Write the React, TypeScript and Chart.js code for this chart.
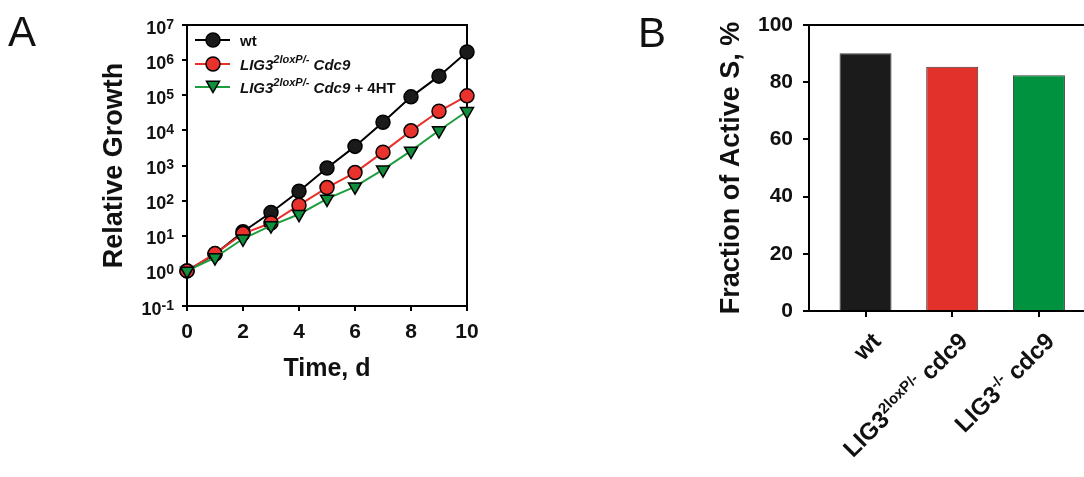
import React, { useEffect, useRef } from 'react';
import { Chart, registerables } from 'chart.js';

Chart.register(...registerables);

const FONT = '"Liberation Sans", Arial, Helvetica, sans-serif';

// ---------- Panel A data ----------
const days = [0, 1, 2, 3, 4, 5, 6, 7, 8, 9, 10];
const wtGrowth = [1, 3, 13, 46, 185, 850, 3500, 17000, 90000, 350000, 1700000];
const lig3Growth = [1, 3.1, 11.5, 23, 74, 235, 630, 2400, 9700, 35000, 96000];
const lig3HtGrowth = [1, 2.4, 8.2, 19.5, 41, 112, 250, 760, 2600, 9900, 35000];
const growthExponents = [-1, 0, 1, 2, 3, 4, 5, 6, 7];

type Run = { t: string; i?: boolean; sup?: boolean };

const legendNames: Run[][] = [
  [{ t: 'wt' }],
  [{ t: 'LIG3', i: true }, { t: '2loxP/-', i: true, sup: true }, { t: ' Cdc9', i: true }],
  [{ t: 'LIG3', i: true }, { t: '2loxP/-', i: true, sup: true }, { t: ' Cdc9', i: true }, { t: ' + 4HT' }],
];

// ---------- Panel B data ----------
const barPositions = [0, 1, 2];
const activeSFraction = [90.1, 85.4, 82.4];
const barLabels: Run[][] = [
  [{ t: 'wt' }],
  [{ t: 'LIG3' }, { t: '2loxP/-', sup: true }, { t: ' cdc9' }],
  [{ t: 'LIG3' }, { t: '-/-', sup: true }, { t: ' cdc9' }],
];
const barColors = ['#1b1b1b', '#e2302b', '#00923f'];

function runFont(r: Run, size: number, supSize: number) {
  return `${r.i ? 'italic ' : ''}bold ${r.sup ? supSize : size}px ${FONT}`;
}
function measureRuns(ctx: CanvasRenderingContext2D, runs: Run[], size: number, supSize: number) {
  let w = 0;
  for (const r of runs) {
    ctx.font = runFont(r, size, supSize);
    w += ctx.measureText(r.t).width;
  }
  return w;
}
function drawRuns(ctx: CanvasRenderingContext2D, runs: Run[], x: number, y: number, size: number, supSize: number, rise: number) {
  let cx = x;
  ctx.textAlign = 'left';
  ctx.textBaseline = 'alphabetic';
  for (const r of runs) {
    ctx.font = runFont(r, size, supSize);
    ctx.fillText(r.t, cx, r.sup ? y - rise : y);
    cx += ctx.measureText(r.t).width;
  }
}
function drawMarker(ctx: CanvasRenderingContext2D, style: string, x: number, y: number, r: number, fill: string) {
  ctx.beginPath();
  if (style === 'circle') {
    ctx.arc(x, y, r, 0, Math.PI * 2);
  } else {
    let rad = Math.PI;
    ctx.moveTo(x + Math.sin(rad) * r, y - Math.cos(rad) * r);
    rad += (2 * Math.PI) / 3;
    ctx.lineTo(x + Math.sin(rad) * r, y - Math.cos(rad) * r);
    rad += (2 * Math.PI) / 3;
    ctx.lineTo(x + Math.sin(rad) * r, y - Math.cos(rad) * r);
    ctx.closePath();
  }
  ctx.fillStyle = fill;
  ctx.fill();
  ctx.lineWidth = 1.5;
  ctx.strokeStyle = '#000';
  ctx.stroke();
}

const seriesStyles = [
  { line: '#000000', fill: '#1a1a1a', style: 'circle', radius: 7 },
  { line: '#e8302a', fill: '#e8322b', style: 'circle', radius: 7 },
  { line: '#1f9e40', fill: '#108f3c', style: 'triangle', radius: 7.5 },
];

function GrowthChart() {
  const ref = useRef<HTMLCanvasElement>(null);
  useEffect(() => {
    const series = [wtGrowth, lig3Growth, lig3HtGrowth];
    const framePlugin = {
      id: 'frameA',
      beforeDatasetsDraw(chart: any) {
        const { ctx, chartArea: a } = chart;
        ctx.save();
        ctx.strokeStyle = '#000';
        ctx.lineWidth = 2;
        ctx.strokeRect(a.left, a.top, a.right - a.left, a.bottom - a.top);
        ctx.restore();
      },
      afterDraw(chart: any) {
        const ctx: CanvasRenderingContext2D = chart.ctx;
        const ys = chart.scales.y;
        ctx.save();
        ctx.fillStyle = '#111';
        const xRight = ys.right - 13;
        for (const e of growthExponents) {
          const y = ys.getPixelForValue(Math.pow(10, e));
          ctx.textBaseline = 'alphabetic';
          ctx.font = `bold 14px ${FONT}`;
          const supT = String(e);
          const sw = ctx.measureText(supT).width;
          ctx.textAlign = 'left';
          ctx.fillText(supT, xRight - sw, y + 3.5);
          ctx.font = `bold 18px ${FONT}`;
          ctx.textAlign = 'right';
          ctx.fillText('10', xRight - sw, y + 8.5);
        }
        // legend
        const lx0 = 195, lx1 = 230, mx = 213, tx = 240;
        const rows = [40, 64, 87];
        legendNames.forEach((runs, k) => {
          const st = seriesStyles[k];
          const y = rows[k];
          ctx.beginPath();
          ctx.moveTo(lx0, y);
          ctx.lineTo(lx1, y);
          ctx.strokeStyle = st.line;
          ctx.lineWidth = 2;
          ctx.stroke();
          drawMarker(ctx, st.style, mx, st.style === 'circle' ? y : y - 2, st.radius, st.fill);
          ctx.fillStyle = '#111';
          drawRuns(ctx, runs, tx, y + 6, 15, 11, 7);
        });
        ctx.restore();
      },
    };
    const chart = new Chart(ref.current!, {
      type: 'line',
      data: {
        datasets: series.map((vals, k) => ({
          label: String(k),
          data: vals.map((v, i) => ({ x: days[i], y: v })),
          borderColor: seriesStyles[k].line,
          backgroundColor: seriesStyles[k].fill,
          pointBackgroundColor: seriesStyles[k].fill,
          pointBorderColor: '#000',
          pointBorderWidth: 1.5,
          pointRadius: seriesStyles[k].radius,
          pointStyle: seriesStyles[k].style as any,
          pointRotation: seriesStyles[k].style === 'triangle' ? 180 : 0,
          borderWidth: 2,
          tension: 0,
          clip: false as any,
          order: 3 - k,
        })),
      },
      options: {
        responsive: false,
        animation: false,
        events: [],
        layout: { padding: { left: 0, top: 25, right: 133, bottom: 0 } },
        plugins: { legend: { display: false }, tooltip: { enabled: false } },
        scales: {
          x: {
            type: 'linear',
            min: 0,
            max: 10,
            ticks: { stepSize: 2, color: '#111', padding: 9, font: { family: FONT, size: 21, weight: 'bold' } },
            grid: { drawOnChartArea: false, drawTicks: true, tickLength: 5, color: '#000', lineWidth: 2 },
            border: { display: true, color: '#000', width: 2 },
            title: { display: true, text: 'Time, d', color: '#111', font: { family: FONT, size: 25, weight: 'bold' }, padding: { top: 0, bottom: 93 } },
            afterFit: (s: any) => { s.height = 477 - 306; },
          },
          y: {
            type: 'logarithmic',
            min: 0.1,
            max: 1e7,
            afterBuildTicks: (s: any) => { s.ticks = growthExponents.map((e) => ({ value: Math.pow(10, e) })); },
            ticks: { callback: () => '', font: { family: FONT, size: 18, weight: 'bold' } },
            grid: { drawOnChartArea: false, drawTicks: true, tickLength: 5, color: '#000', lineWidth: 2 },
            border: { display: true, color: '#000', width: 2 },
            title: { display: true, text: 'Relative Growth', color: '#111', font: { family: FONT, size: 27, weight: 'bold' }, padding: { top: 98, bottom: 0 } },
            afterFit: (s: any) => { s.width = 187; },
          },
        },
      } as any,
      plugins: [framePlugin],
    });
    return () => chart.destroy();
  }, []);
  return <canvas ref={ref} width={600} height={477} style={{ width: 600, height: 477, display: 'block' }} />;
}

function FractionChart() {
  const ref = useRef<HTMLCanvasElement>(null);
  useEffect(() => {
    const plugin = {
      id: 'frameB',
      beforeDatasetsDraw(chart: any) {
        const { ctx, chartArea: a } = chart;
        ctx.save();
        ctx.strokeStyle = '#000';
        ctx.lineWidth = 2;
        ctx.strokeRect(a.left, a.top, a.right - a.left, a.bottom - a.top);
        ctx.restore();
      },
      afterDraw(chart: any) {
        const ctx: CanvasRenderingContext2D = chart.ctx;
        const xs = chart.scales.x;
        const bottom = chart.chartArea.bottom;
        ctx.save();
        ctx.fillStyle = '#111';
        barLabels.forEach((runs, i) => {
          const px = xs.getPixelForValue(barPositions[i]);
          ctx.save();
          ctx.translate(px + 11, bottom + 26);
          ctx.rotate(-Math.PI / 4);
          const w = measureRuns(ctx, runs, 24, 15);
          drawRuns(ctx, runs, -w, 8, 24, 15, 9);
          ctx.restore();
        });
        ctx.restore();
      },
    };
    const chart = new Chart(ref.current!, {
      type: 'bar',
      data: {
        datasets: [
          {
            label: 'Fraction of Active S',
            data: activeSFraction.map((v, i) => ({ x: barPositions[i], y: v })),
            backgroundColor: barColors,
            borderColor: '#3a3a3a',
            borderWidth: 1,
            barPercentage: 0.6,
            categoryPercentage: 1,
          },
        ],
      },
      options: {
        responsive: false,
        animation: false,
        events: [],
        layout: { padding: { left: 0, top: 25, right: 10, bottom: 0 } },
        plugins: { legend: { display: false }, tooltip: { enabled: false } },
        scales: {
          x: {
            type: 'linear',
            offset: false,
            min: -0.652,
            max: 2.82,
            afterBuildTicks: (s: any) => { s.ticks = barPositions.map((v) => ({ value: v })); },
            ticks: { callback: () => '' },
            grid: { offset: false, drawOnChartArea: false, drawTicks: true, tickLength: 6, color: '#000', lineWidth: 2 },
            border: { display: true, color: '#000', width: 2 },
            afterFit: (s: any) => { s.height = 477 - 311; },
          },
          y: {
            type: 'linear',
            min: 0,
            max: 100,
            ticks: { stepSize: 20, color: '#111', padding: 10, font: { family: FONT, size: 21, weight: 'bold' } },
            grid: { drawOnChartArea: false, drawTicks: true, tickLength: 6, color: '#000', lineWidth: 2 },
            border: { display: true, color: '#000', width: 2 },
            title: { display: true, text: 'Fraction of Active S, %', color: '#111', font: { family: FONT, size: 27, weight: 'bold' }, padding: { top: 95, bottom: 0 } },
            afterFit: (s: any) => { s.width = 189; },
          },
        },
      } as any,
      plugins: [plugin],
    });
    return () => chart.destroy();
  }, []);
  return <canvas ref={ref} width={500} height={477} style={{ width: 500, height: 477, display: 'block' }} />;
}

export default function App() {
  const panelLabel: React.CSSProperties = {
    position: 'absolute',
    fontFamily: FONT,
    fontSize: 42,
    lineHeight: '42px',
    color: '#111',
  };
  return (
    <div style={{ position: 'fixed', left: 0, top: 0, width: 1084, height: 477, overflow: 'hidden', background: '#fff' }}>
      <div style={{ position: 'absolute', left: 0, top: 0 }}>
        <GrowthChart />
      </div>
      <div style={{ position: 'absolute', left: 620, top: 0 }}>
        <FractionChart />
      </div>
      <div style={{ ...panelLabel, left: 8, top: 11 }}>A</div>
      <div style={{ ...panelLabel, left: 638, top: 12 }}>B</div>
    </div>
  );
}
